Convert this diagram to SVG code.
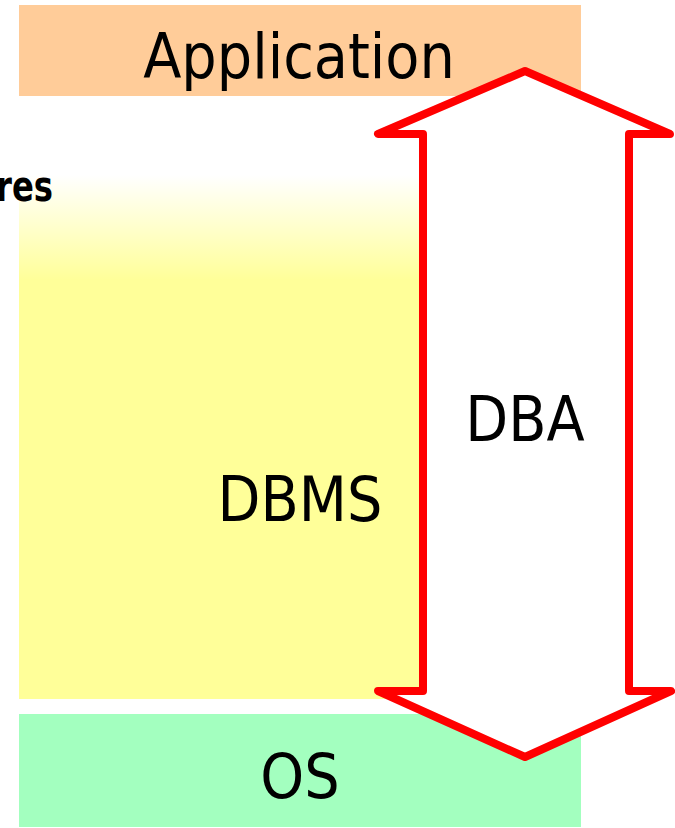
<svg xmlns="http://www.w3.org/2000/svg" width="675" height="828" viewBox="0 0 675 828">
<style>
.lbl{font-family:"DejaVu Sans Condensed","DejaVu Sans",sans-serif;font-stretch:condensed;font-size:62px;fill:#000;text-anchor:middle}
.bold{font-family:"DejaVu Sans Condensed","DejaVu Sans",sans-serif;font-stretch:condensed;font-weight:bold;font-size:42px;fill:#000}
</style>
<defs>
<linearGradient id="yg" x1="0" y1="175" x2="0" y2="699" gradientUnits="userSpaceOnUse">
<stop offset="0" stop-color="#FFFFFF"/>
<stop offset="0.2" stop-color="#FFFF99"/>
<stop offset="1" stop-color="#FFFF99"/>
</linearGradient>
</defs>
<rect width="675" height="828" fill="#FFFFFF"/>
<g id="application">
<rect x="19" y="5" width="562" height="91" fill="#FFCC99"/>
<text class="lbl" x="299" y="78">Application</text>
</g>
<g id="dbms">
<rect x="19" y="175" width="562" height="524" fill="url(#yg)"/>
<text class="lbl" x="300" y="521">DBMS</text>
</g>
<g id="structures">
<text class="bold" x="-4" y="201" textLength="57" lengthAdjust="spacingAndGlyphs">res</text>
</g>
<g id="os">
<rect x="19" y="714" width="562" height="113" fill="#A3FFBF"/>
<text class="lbl" x="300" y="798">OS</text>
</g>
<g id="connectors">
<g id="dba">
<polygon points="525,71 378,134 423,134 423,691 378,691 525,757 671,691 629,691 629,134 670,134" fill="#FFFFFF" stroke="#FF0000" stroke-width="8" stroke-linejoin="round"/>
<text class="lbl" x="525" y="441">DBA</text>
</g>
</g>
</svg>
